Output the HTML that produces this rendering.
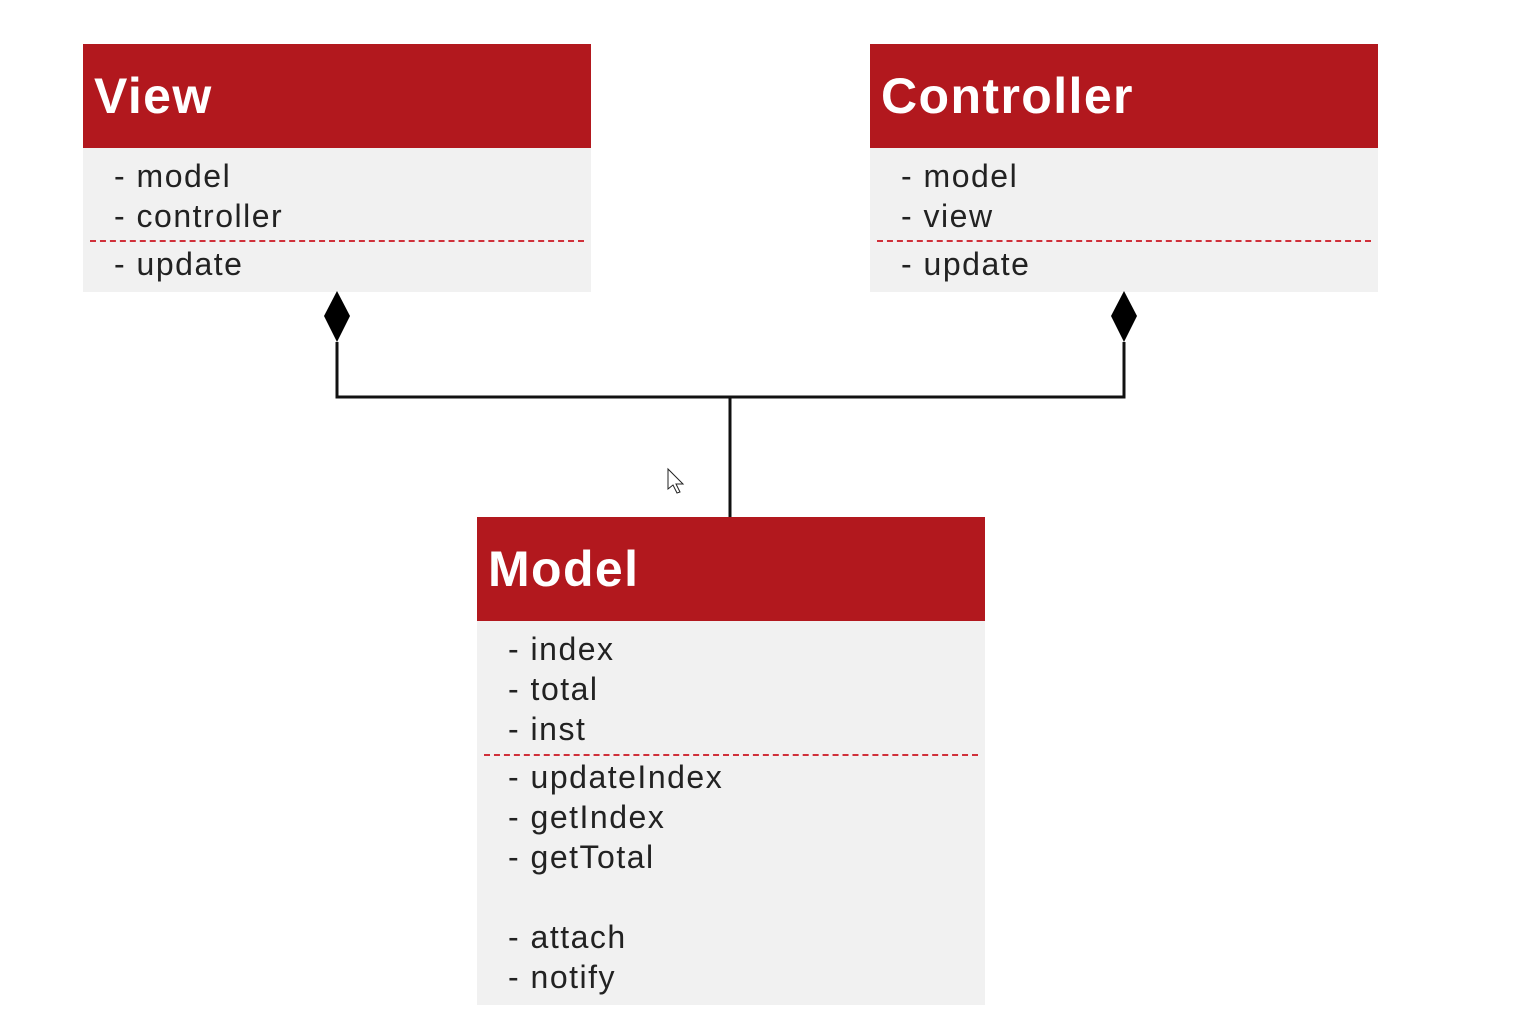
<!DOCTYPE html>
<html><head><meta charset="utf-8"><style>
body{margin:0;width:1521px;height:1035px;background:#fff;position:relative;overflow:hidden;font-family:"Liberation Sans","DejaVu Sans",sans-serif}
.box{position:absolute;width:508px;background:#f1f1f1}
.hd{height:104px;background:#b2181e;color:#fff;font-weight:bold;font-size:50px;line-height:104px;padding-left:11px;box-sizing:border-box;letter-spacing:1.4px}
.it{position:absolute;left:31px;font-size:32px;color:#222;line-height:40px;white-space:nowrap;letter-spacing:1.5px}
.dash{position:absolute;left:7px;right:7px;border-top:2px dashed #d0303a}
</style></head><body>
<div class="box" style="left:83px;top:44px;height:248px">
<div class="hd">View</div>
<div class="it" style="top:112px">- model<br>- controller</div>
<div class="dash" style="top:196px"></div>
<div class="it" style="top:200px">- update</div>
</div>
<div class="box" style="left:870px;top:44px;height:248px">
<div class="hd">Controller</div>
<div class="it" style="top:112px">- model<br>- view</div>
<div class="dash" style="top:196px"></div>
<div class="it" style="top:200px">- update</div>
</div>
<div class="box" style="left:477px;top:517px;height:488px">
<div class="hd">Model</div>
<div class="it" style="top:112px">- index<br>- total<br>- inst</div>
<div class="dash" style="top:237px"></div>
<div class="it" style="top:240px">- updateIndex<br>- getIndex<br>- getTotal<br>&nbsp;<br>- attach<br>- notify</div>
</div>
<svg width="1521" height="1035" style="position:absolute;left:0;top:0">
<polyline points="337,342 337,397 1124,397 1124,342" fill="none" stroke="#111" stroke-width="3"/>
<line x1="730" y1="397" x2="730" y2="517" stroke="#111" stroke-width="3"/>
<polygon points="337,291 350,316 337,342 324,316" fill="#000"/>
<polygon points="1124,291 1137,316 1124,342 1111,316" fill="#000"/>
<path d="M668,469 L668,489 L673,485 L677,493 L680,492 L676,484 L683,484 Z" fill="#fff" stroke="#222" stroke-width="1"/>
</svg>
</body></html>
